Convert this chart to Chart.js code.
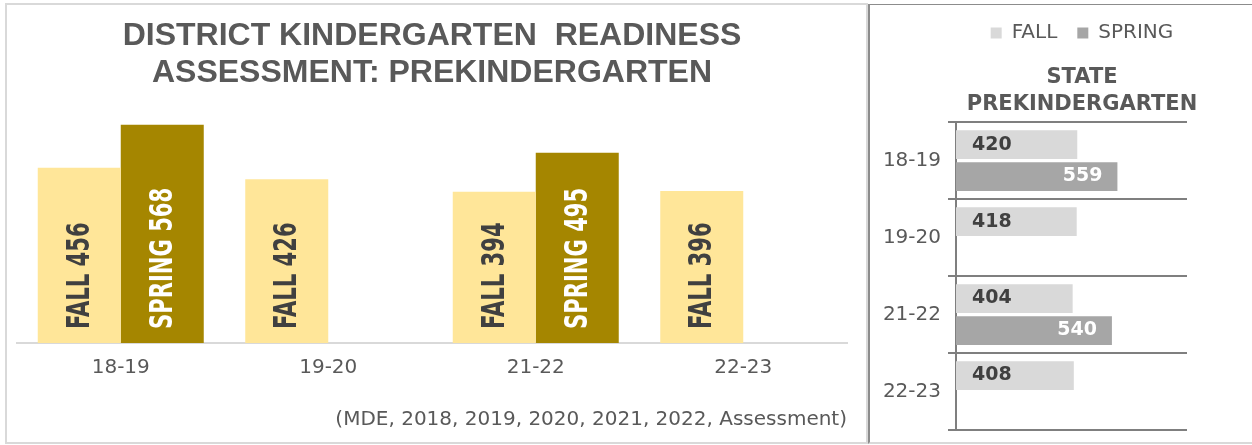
<!DOCTYPE html>
<html>
<head>
<meta charset="utf-8">
<script src="https://cdn.jsdelivr.net/npm/chart.js@4.4.1/dist/chart.umd.min.js"></script>
<style>
  html, body { margin: 0; padding: 0; background: #ffffff; width: 1252px; height: 445px; overflow: hidden; }
  #leftBox { position: absolute; left: 5px; top: 3px; width: 863px; height: 441px; box-sizing: border-box; border: 2px solid #d9d9d9; }
  #rightBox { position: absolute; left: 868px; top: 4px; width: 426px; height: 440px; box-sizing: border-box;
              border-left: 2px solid #8c8c8c; border-top: 1px solid #8c8c8c; border-bottom: 2px solid #d9d9d9; overflow: hidden; }
  canvas { display: block; }
</style>
</head>
<body>
<div id="leftBox"><canvas id="districtChart" width="859" height="437"></canvas></div>
<div id="rightBox"><canvas id="stateChart" width="424" height="444"></canvas></div>
<script>
// ---- data ----
const categories = ['18-19', '19-20', '21-22', '22-23'];
const seriesNames = ['FALL', 'SPRING'];
const districtFall = [456, 426, 394, 396];
const districtSpring = [568, null, 495, null];
const stateFall = [420, 418, 404, 408];
const stateSpring = [559, null, 540, null];
const districtTitle = ['DISTRICT KINDERGARTEN  READINESS', 'ASSESSMENT: PREKINDERGARTEN'];
const stateTitle = ['STATE', 'PREKINDERGARTEN'];
const sourceNote = '(MDE, 2018, 2019, 2020, 2021, 2022, Assessment)';

const GREY_TEXT = '#595959';
const DARK_TEXT = '#404040';

// ---- left chart: vertical (condensed) labels inside bars ----
const verticalLabels = {
  id: 'verticalLabels',
  afterDatasetsDraw(chart) {
    const ctx = chart.ctx;
    chart.data.datasets.forEach((ds, di) => {
      const meta = chart.getDatasetMeta(di);
      meta.data.forEach((bar, i) => {
        const v = ds.data[i];
        if (v === null || v === undefined) return;
        ctx.save();
        ctx.translate(bar.x + 1, bar.base - 14);
        ctx.rotate(-Math.PI / 2);
        ctx.scale(0.66, 1);
        ctx.font = "bold 32px 'DejaVu Sans', sans-serif";
        ctx.fillStyle = di === 0 ? DARK_TEXT : '#ffffff';
        ctx.textAlign = 'left';
        ctx.textBaseline = 'middle';
        ctx.fillText(seriesNames[di] + ' ' + v, 0, 0);
        ctx.restore();
      });
    });
  }
};

new Chart(document.getElementById('districtChart'), {
  type: 'bar',
  data: {
    labels: categories,
    datasets: [
      { label: seriesNames[0], data: districtFall, backgroundColor: '#ffe699', borderWidth: 0, categoryPercentage: 0.8, barPercentage: 1.0 },
      { label: seriesNames[1], data: districtSpring, backgroundColor: '#a58600', borderWidth: 0, categoryPercentage: 0.8, barPercentage: 1.0 }
    ]
  },
  options: {
    responsive: false,
    devicePixelRatio: 1,
    animation: false,
    layout: { padding: { left: 10, right: 19, top: 0, bottom: 10 } },
    plugins: {
      legend: { display: false },
      tooltip: { enabled: false },
      title: {
        display: true,
        text: districtTitle,
        color: GREY_TEXT,
        font: { family: "'Liberation Sans', Arial, sans-serif", size: 32, weight: 'bold', lineHeight: 1.18 },
        padding: { top: 12, bottom: 20 }
      },
      subtitle: {
        display: true,
        position: 'bottom',
        align: 'end',
        text: sourceNote,
        color: GREY_TEXT,
        font: { family: "'DejaVu Sans', sans-serif", size: 20, weight: 'normal', lineHeight: 1.2 },
        padding: { top: 15, bottom: 0 }
      }
    },
    scales: {
      x: {
        grid: { display: false, drawTicks: false },
        border: { display: true, color: '#d9d9d9', width: 2 },
        ticks: { color: GREY_TEXT, padding: 13, font: { family: "'DejaVu Sans', sans-serif", size: 20, lineHeight: 1.2 } }
      },
      y: { display: false, min: 0, max: 600 }
    }
  },
  plugins: [verticalLabels]
});

// ---- right chart: value labels ----
const hLabels = {
  id: 'hLabels',
  afterDatasetsDraw(chart) {
    const ctx = chart.ctx;
    chart.data.datasets.forEach((ds, di) => {
      const meta = chart.getDatasetMeta(di);
      meta.data.forEach((bar, i) => {
        const v = ds.data[i];
        if (v === null || v === undefined) return;
        ctx.save();
        ctx.font = "bold 19px 'DejaVu Sans', sans-serif";
        ctx.textBaseline = 'middle';
        if (di === 0) {
          ctx.fillStyle = DARK_TEXT;
          ctx.textAlign = 'left';
          ctx.fillText(String(v), bar.base + 16, bar.y);
        } else {
          ctx.fillStyle = '#ffffff';
          ctx.textAlign = 'right';
          ctx.fillText(String(v), bar.x - 15, bar.y);
        }
        ctx.restore();
      });
    });
  }
};

new Chart(document.getElementById('stateChart'), {
  type: 'bar',
  data: {
    labels: categories,
    datasets: [
      { label: seriesNames[0], data: stateFall, backgroundColor: '#d9d9d9', borderWidth: 0, categoryPercentage: 0.83, barPercentage: 0.9 },
      { label: seriesNames[1], data: stateSpring, backgroundColor: '#a6a6a6', borderWidth: 0, categoryPercentage: 0.83, barPercentage: 0.9 }
    ]
  },
  options: {
    indexAxis: 'y',
    responsive: false,
    devicePixelRatio: 1,
    animation: false,
    layout: { padding: { left: 0, right: 0, top: -2, bottom: 12 } },
    plugins: {
      tooltip: { enabled: false },
      legend: {
        display: true,
        position: 'top',
        weight: 3000,
        labels: {
          color: GREY_TEXT,
          boxWidth: 11,
          boxHeight: 11,
          padding: 20,
          font: { family: "'DejaVu Sans', sans-serif", size: 20 }
        }
      },
      title: {
        display: true,
        text: stateTitle,
        color: GREY_TEXT,
        font: { family: "'DejaVu Sans', sans-serif", size: 21, weight: 'bold', lineHeight: 1.24 },
        padding: { top: 12, bottom: 5 }
      }
    },
    scales: {
      x: { display: false, min: 0, max: 800 },
      y: {
        grid: { color: '#7f7f7f', lineWidth: 2, drawTicks: true, tickLength: 8, offset: true },
        border: { display: true, color: '#7f7f7f', width: 2 },
        ticks: { color: GREY_TEXT, padding: 7, font: { family: "'DejaVu Sans', sans-serif", size: 20 } },
        afterFit(scale) { scale.width = 86; }
      },
      yPad: {
        type: 'linear',
        axis: 'y',
        position: 'right',
        display: true,
        grid: { display: false },
        border: { display: false },
        ticks: { display: false },
        afterFit(scale) { scale.width = 107; }
      }
    }
  },
  plugins: [hLabels]
});
</script>
</body>
</html>
